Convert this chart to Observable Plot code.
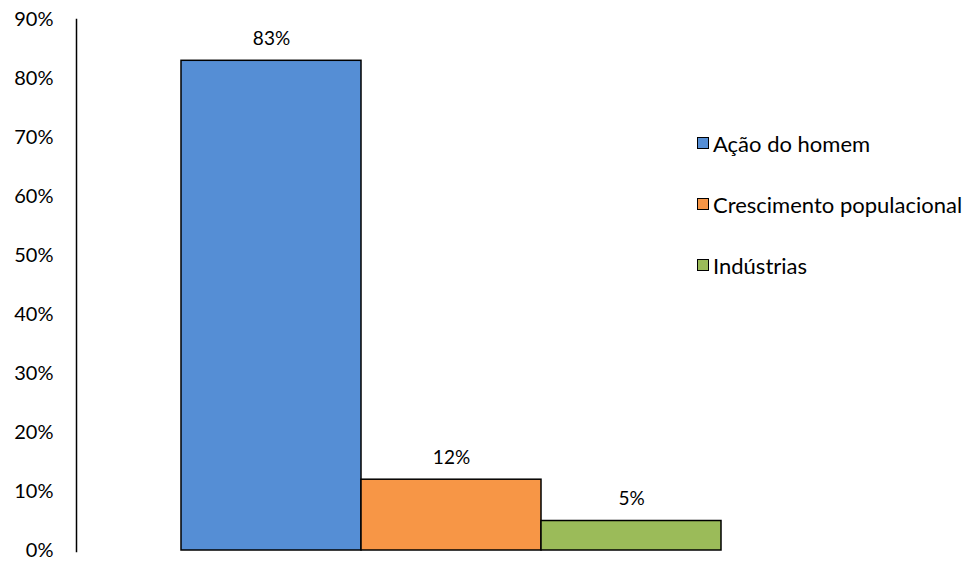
<!DOCTYPE html>
<html>
<head>
<meta charset="utf-8">
<script src="https://cdn.jsdelivr.net/npm/d3@7"></script>
<script src="https://cdn.jsdelivr.net/npm/@observablehq/plot@0.6"></script>
<style>
  body { margin: 0; background: #fff; font-family: Lato, "Open Sans", sans-serif; }
  #wrap { position: relative; width: 971px; height: 561px; }
  .legend { position: absolute; left: 697px; top: 129px; font-size: 22px; color: #000; }
  .legend .row { display: flex; align-items: center; height: 28px; margin-bottom: 33px; white-space: nowrap; }
  .legend .sw { width: 10px; height: 10px; border: 1.5px solid #000; margin-right: 4px; }
</style>
</head>
<body>
<div id="wrap"></div>
<script>
const categories = ["Ação do homem", "Crescimento populacional", "Indústrias"];
const values = [0.83, 0.12, 0.05];
const colors = ["#558ED5", "#F79646", "#9BBB59"];
const yTicks = [0, 0.1, 0.2, 0.3, 0.4, 0.5, 0.6, 0.7, 0.8, 0.9];

const data = categories.map((c, i) => ({cat: c, value: values[i]}));

const chart = Plot.plot({
  width: 971,
  height: 561,
  marginLeft: 76,
  marginTop: 19,
  marginBottom: 10,
  marginRight: 10,
  style: {fontFamily: "Lato, 'Open Sans', sans-serif", fontSize: "20px", color: "#000", background: "#fff"},
  x: {domain: categories, range: [180, 721], padding: 0, axis: null},
  y: {domain: [0, 0.9], range: [550, 19]},
  color: {domain: categories, range: colors},
  marks: [
    Plot.axisY({ticks: yTicks, tickFormat: d3.format(".0%"), tickSize: 0, tickPadding: 23, label: null, fontSize: 20}),
    Plot.frame({anchor: "left", stroke: "#000", strokeWidth: 1.5}),
    Plot.barY(data, {x: "cat", y: "value", fill: "cat", stroke: "#000", strokeWidth: 1.5, inset: 0}),
    Plot.text(data, {x: "cat", y: "value", text: d => d3.format(".0%")(d.value), dy: -22, fontSize: 19, fill: "#000"})
  ]
});

const wrap = document.getElementById("wrap");
wrap.appendChild(chart);
const legend = document.createElement("div");
legend.className = "legend";
categories.forEach((c, i) => {
  const row = document.createElement("div");
  row.className = "row";
  const sw = document.createElement("span");
  sw.className = "sw";
  sw.style.background = colors[i];
  const t = document.createElement("span");
  t.textContent = c;
  row.appendChild(sw);
  row.appendChild(t);
  legend.appendChild(row);
});
wrap.appendChild(legend);
</script>
</body>
</html>
